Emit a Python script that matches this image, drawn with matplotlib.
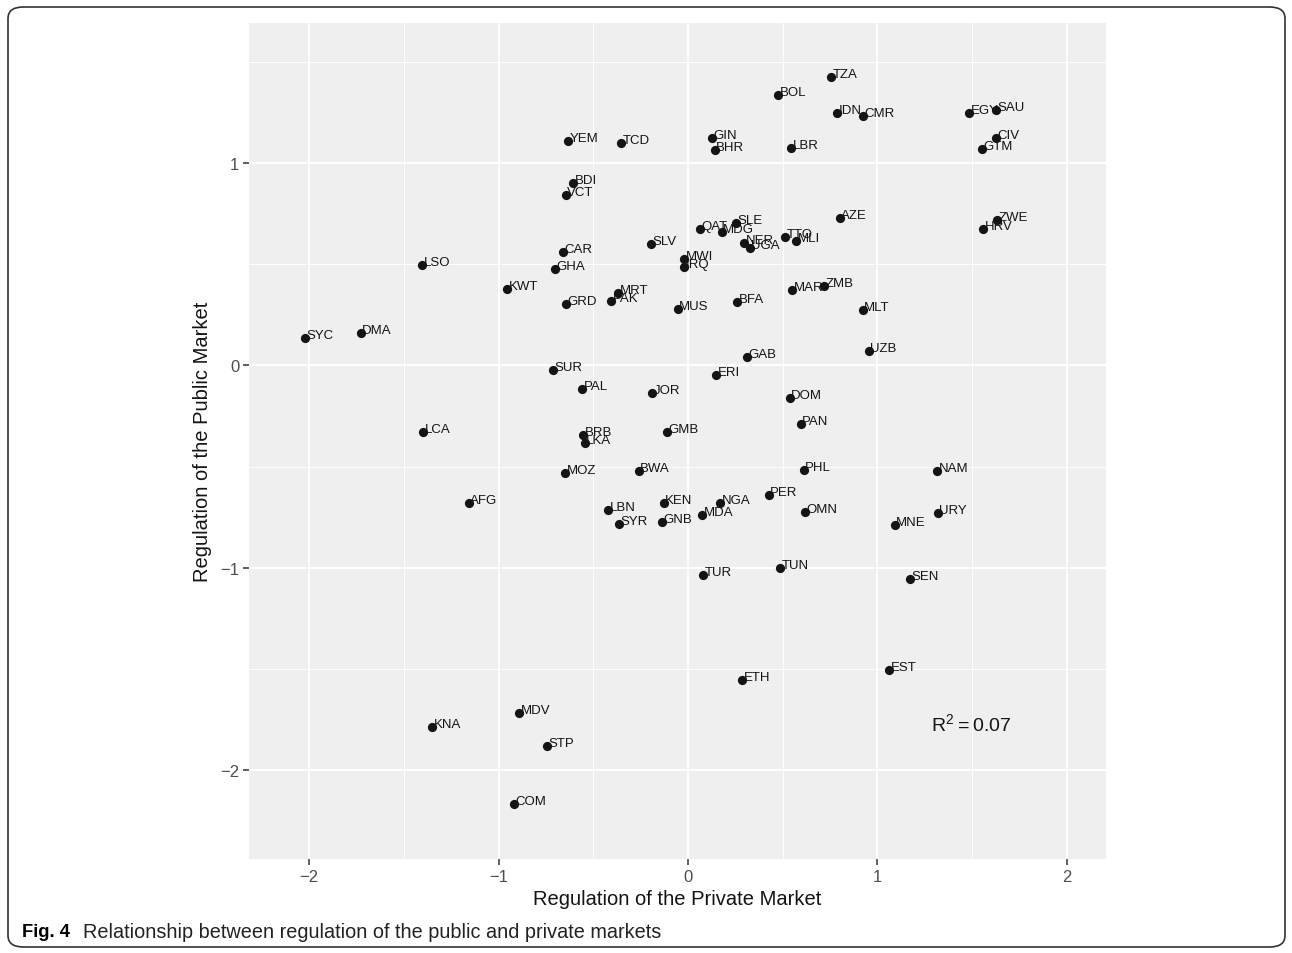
import matplotlib
matplotlib.use("Agg")
import matplotlib.pyplot as plt
from matplotlib.patches import FancyBboxPatch
from matplotlib.ticker import MultipleLocator

plt.rcParams['font.family'] = ['Liberation Sans', 'DejaVu Sans']

# country codes and their scores (private market, public market)
codes = ["TZA", "BOL", "IDN", "CMR", "EGY", "SAU", "CIV", "GTM", "GIN", "BHR",
         "LBR", "YEM", "TCD", "BDI", "VCT", "AZE", "ZWE", "HRV", "QAT", "SLE",
         "MDG", "TTO", "MLI", "NER", "UGA", "SLV", "MWI", "IRQ", "CAR", "GHA",
         "LSO", "KWT", "MRT", "PAK", "GRD", "MUS", "BFA", "MAR", "ZMB", "MLT",
         "UZB", "SYC", "DMA", "GAB", "SUR", "ERI", "PAL", "JOR", "DOM", "PAN",
         "LCA", "BRB", "LKA", "GMB", "MOZ", "BWA", "PHL", "NAM", "AFG", "LBN",
         "SYR", "KEN", "GNB", "NGA", "MDA", "PER", "OMN", "MNE", "URY", "TUR",
         "TUN", "SEN", "ETH", "EST", "KNA", "MDV", "STP", "COM"]
private = [0.755, 0.475, 0.786, 0.923, 1.483, 1.625, 1.625, 1.551, 0.127, 0.142,
           0.544, -0.633, -0.354, -0.607, -0.644, 0.802, 1.631, 1.557, 0.063, 0.253,
           0.179, 0.512, 0.570, 0.296, 0.327, -0.195, -0.021, -0.021, -0.660, -0.702,
           -1.404, -0.955, -0.369, -0.406, -0.644, -0.053, 0.259, 0.549, 0.718, 0.923,
           0.955, -2.021, -1.726, 0.311, -0.712, 0.148, -0.559, -0.190, 0.538, 0.596,
           -1.398, -0.554, -0.544, -0.111, -0.649, -0.259, 0.612, 1.314, -1.156, -0.422,
           -0.364, -0.127, -0.137, 0.169, 0.074, 0.427, 0.617, 1.092, 1.319, 0.079,
           0.485, 1.172, 0.285, 1.061, -1.351, -0.892, -0.744, -0.918]
public = [1.425, 1.336, 1.247, 1.232, 1.247, 1.262, 1.123, 1.069, 1.121, 1.062,
          1.072, 1.109, 1.099, 0.901, 0.842, 0.728, 0.719, 0.674, 0.674, 0.704,
          0.659, 0.635, 0.615, 0.605, 0.580, 0.600, 0.526, 0.486, 0.561, 0.477,
          0.496, 0.378, 0.358, 0.319, 0.304, 0.279, 0.314, 0.373, 0.393, 0.274,
          0.072, 0.136, 0.160, 0.042, -0.022, -0.047, -0.116, -0.136, -0.160, -0.289,
          -0.328, -0.343, -0.383, -0.328, -0.531, -0.521, -0.516, -0.521, -0.679, -0.714,
          -0.783, -0.679, -0.773, -0.679, -0.738, -0.640, -0.723, -0.788, -0.728, -1.035,
          -1.000, -1.054, -1.553, -1.504, -1.785, -1.716, -1.879, -2.165]
r2_text = r"$\mathregular{R^2 = 0.07}$"
fig_tag = "Fig. 4"
caption = "Relationship between regulation of the public and private markets"

W, H = 1292, 954
fig = plt.figure(figsize=(W / 100, H / 100), dpi=100)

# rounded frame round the whole figure
frame = FancyBboxPatch((8 / W, 6 / H), 1277 / W, 940 / H,
                       boxstyle="round,pad=0,rounding_size=0.012",
                       transform=fig.transFigure, fill=False,
                       edgecolor="#333333", linewidth=1.2)
fig.patches.append(frame)

ax = fig.add_axes([249 / W, 1 - 860 / H, 857 / W, 836 / H])
ax.set_facecolor("#EFEFEF")
for s in ax.spines.values():
    s.set_visible(False)

ax.set_xlim(-2.317, 2.206)
ax.set_ylim(-2.437, 1.691)
ax.xaxis.set_major_locator(MultipleLocator(1))
ax.yaxis.set_major_locator(MultipleLocator(1))
ax.xaxis.set_minor_locator(MultipleLocator(0.5))
ax.yaxis.set_minor_locator(MultipleLocator(0.5))
ax.grid(which="major", color="white", linewidth=1.4)
ax.grid(which="minor", color="white", linewidth=0.7)
ax.set_axisbelow(True)
ax.tick_params(which="major", length=4, width=1.1, color="#333333",
               labelsize=12, labelcolor="#4D4D4D", pad=3)
ax.tick_params(which="minor", length=0)

ax.scatter(private, public, s=44, color="#141414", zorder=3, linewidths=0)
for c, x, y in zip(codes, private, public):
    ax.annotate(c, (x, y), xytext=(1, 0), textcoords="offset points",
                ha="left", va="baseline", fontsize=9.5, color="#141414", zorder=4)

ax.text(1.493, -1.765, r2_text, ha="center", va="center", fontsize=14, color="#141414")

ax.set_xlabel("Regulation of the Private Market", fontsize=14.5, color="#141414", labelpad=4)
ax.set_ylabel("Regulation of the Public Market", fontsize=14.5, color="#141414", labelpad=6)

# caption: fit the widths seen in the reference (narrow typeface there)
renderer = fig.canvas.get_renderer()
t1 = fig.text(22 / W, 1 - 933 / H, fig_tag, fontsize=13, fontweight="bold",
              va="center", ha="left")
w1 = t1.get_window_extent(renderer).width
t1.set_fontsize(13 * 48 / w1)
t2 = fig.text(83 / W, 1 - 933 / H, caption, fontsize=13, va="center", ha="left",
              color="#222222")
w2 = t2.get_window_extent(renderer).width
t2.set_fontsize(13 * 574 / w2)

fig.savefig("out.png", dpi=100)
